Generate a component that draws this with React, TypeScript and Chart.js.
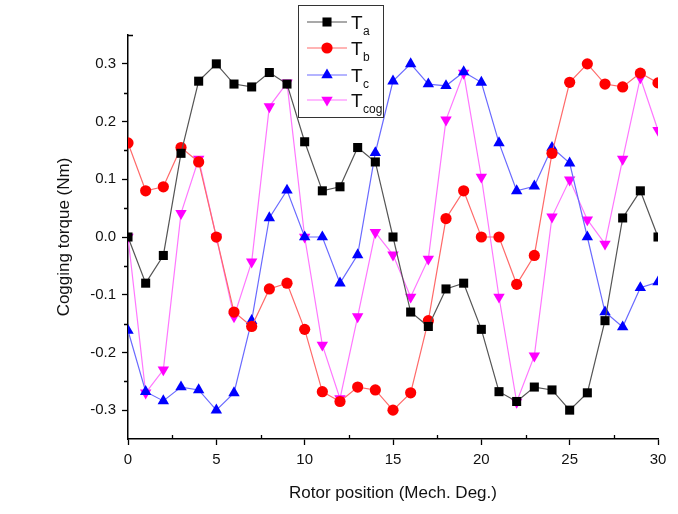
import React, { useEffect, useRef } from 'react';
import { Chart, registerables } from 'chart.js';
Chart.register(...registerables);

const positions = [0, 1, 2, 3, 4, 5, 6, 7, 8, 9, 10, 11, 12, 13, 14, 15, 16, 17, 18, 19, 20, 21, 22, 23, 24, 25, 26, 27, 28, 29, 30];
const Ta = [0, -0.08, -0.032, 0.145, 0.27, 0.3, 0.265, 0.26, 0.285, 0.265, 0.165, 0.08, 0.087, 0.155, 0.13, 0, -0.13, -0.155, -0.09, -0.08, -0.16, -0.268, -0.285, -0.26, -0.265, -0.3, -0.27, -0.145, 0.033, 0.08, 0];
const Tb = [0.163, 0.08, 0.087, 0.155, 0.13, 0, -0.13, -0.155, -0.09, -0.08, -0.16, -0.268, -0.285, -0.26, -0.265, -0.3, -0.27, -0.145, 0.032, 0.08, 0, 0, -0.082, -0.032, 0.145, 0.268, 0.3, 0.265, 0.26, 0.284, 0.267];
const Tc = [-0.162, -0.268, -0.284, -0.26, -0.265, -0.3, -0.27, -0.145, 0.033, 0.081, 0, 0, -0.08, -0.031, 0.146, 0.27, 0.3, 0.265, 0.262, 0.286, 0.268, 0.163, 0.08, 0.088, 0.155, 0.128, 0, -0.13, -0.156, -0.088, -0.078];
const Tcog = [0, -0.27, -0.23, 0.041, 0.135, 0, -0.138, -0.043, 0.226, 0.267, 0, -0.187, -0.28, -0.138, 0.008, -0.031, -0.104, -0.038, 0.203, 0.284, 0.104, -0.104, -0.286, -0.206, 0.035, 0.099, 0.03, -0.012, 0.135, 0.276, 0.185];

const seriesNames = ['a', 'b', 'c', 'cog'];
const xTitle = 'Rotor position (Mech. Deg.)';
const yTitle = 'Cogging torque (Nm)';
const xMinorTicks = [2.5, 7.5, 12.5, 17.5, 22.5, 27.5];
const yMinorTicks = [-0.25, -0.15, -0.05, 0.05, 0.15, 0.25];

const lineColors = ['#555555', '#ff6a6a', '#6a6aff', '#ff77ff'];
const markerColors = ['#000000', '#ff0000', '#0000ff', '#ff00ff'];
const markerStyles: any[] = ['rect', 'circle', 'triangle', 'triangle'];
const markerRot = [0, 0, 0, 180];
const markerRadius = [6.4, 5.6, 6.6, 6.6];
const FONT = '"Liberation Sans", Arial, sans-serif';

function drawMarker(ctx: CanvasRenderingContext2D, i: number, x: number, y: number) {
  ctx.save();
  ctx.fillStyle = markerColors[i];
  ctx.beginPath();
  const r = markerRadius[i];
  if (i === 0) {
    const s = Math.SQRT1_2 * r;
    ctx.rect(x - s, y - s, 2 * s, 2 * s);
  } else if (i === 1) {
    ctx.arc(x, y, r, 0, Math.PI * 2);
  } else {
    const dir = i === 2 ? 1 : -1;
    for (let k = 0; k < 3; k++) {
      const a = -Math.PI / 2 + (k * 2 * Math.PI) / 3;
      const px = x + r * Math.cos(a);
      const py = y + dir * r * Math.sin(a);
      if (k === 0) ctx.moveTo(px, py);
      else ctx.lineTo(px, py);
    }
    ctx.closePath();
  }
  ctx.fill();
  ctx.restore();
}

const axisExtrasPlugin = {
  id: 'axisExtras',
  afterDraw(chart: any) {
    const ctx: CanvasRenderingContext2D = chart.ctx;
    const xs = chart.scales.x;
    const ys = chart.scales.y;
    const area = chart.chartArea;
    ctx.save();
    ctx.strokeStyle = '#000000';
    ctx.lineWidth = 1.3;
    ctx.beginPath();
    xMinorTicks.forEach((v) => {
      const px = Math.round(xs.getPixelForValue(v)) + 0.5;
      ctx.moveTo(px, area.bottom);
      ctx.lineTo(px, area.bottom - 4);
    });
    yMinorTicks.forEach((v) => {
      const py = Math.round(ys.getPixelForValue(v)) + 0.5;
      ctx.moveTo(area.left, py);
      ctx.lineTo(area.left - 4, py);
    });
    // small hook at the top end of the y axis
    ctx.moveTo(area.left, area.top + 0.5);
    ctx.lineTo(area.left + 5, area.top + 0.5);
    ctx.stroke();
    ctx.restore();
  },
};

const legendPlugin = {
  id: 'customLegend',
  afterDraw(chart: any) {
    const ctx: CanvasRenderingContext2D = chart.ctx;
    ctx.save();
    const bx = 298, by = 5, bw = 85, bh = 112;
    ctx.fillStyle = '#ffffff';
    ctx.fillRect(bx, by, bw, bh);
    ctx.strokeStyle = '#333333';
    ctx.lineWidth = 1;
    ctx.strokeRect(bx + 0.5, by + 0.5, bw, bh);
    const rows = [22, 48, 75, 100];
    rows.forEach((ry, i) => {
      ctx.strokeStyle = lineColors[i];
      ctx.lineWidth = 1.2;
      ctx.beginPath();
      ctx.moveTo(307, ry);
      ctx.lineTo(347, ry);
      ctx.stroke();
      drawMarker(ctx, i, 327, ry);
      ctx.fillStyle = '#111111';
      ctx.textBaseline = 'alphabetic';
      ctx.textAlign = 'left';
      ctx.font = '19px ' + FONT;
      ctx.fillText('T', 351, ry + 7);
      ctx.font = '12px ' + FONT;
      ctx.fillText(seriesNames[i], 363, ry + 13);
    });
    ctx.restore();
  },
};

export default function App() {
  const ref = useRef<HTMLCanvasElement | null>(null);
  useEffect(() => {
    if (!ref.current) return;
    const all = [Ta, Tb, Tc, Tcog];
    const isMajorX = (v: number) => Math.round(v * 10) % 50 === 0;
    const isMajorY = (v: number) => Math.round(v * 100) % 10 === 0;
    const chart = new Chart(ref.current, {
      type: 'line',
      data: {
        labels: positions,
        datasets: all.map((d, i) => ({
          label: 'T' + seriesNames[i],
          data: positions.map((x, j) => ({ x, y: d[j] })),
          borderColor: lineColors[i],
          borderWidth: 1.2,
          backgroundColor: markerColors[i],
          pointBackgroundColor: markerColors[i],
          pointBorderColor: markerColors[i],
          pointBorderWidth: 0,
          pointStyle: markerStyles[i],
          pointRotation: markerRot[i],
          pointRadius: markerRadius[i],
          tension: 0,
          fill: false,
        })),
      },
      options: {
        animation: false,
        responsive: false,
        events: [],
        layout: { padding: { left: 52, right: 20, top: 35, bottom: 8 } },
        plugins: { legend: { display: false }, tooltip: { enabled: false } },
        scales: {
          x: {
            type: 'linear',
            min: 0,
            max: 30,
            afterFit(scale: any) { scale.height = 67; },
            border: { display: true, color: '#000000', width: 1.5 },
            grid: {
              display: true, drawOnChartArea: false, drawTicks: true, tickLength: 6,
              color: '#000000',
              tickColor: (c: any) => (c.tick && isMajorX(c.tick.value) ? '#000000' : 'rgba(0,0,0,0)'),
              tickWidth: 1.3,
            },
            ticks: {
              stepSize: 2.5,
              autoSkip: false,
              maxRotation: 0,
              padding: 6,
              color: '#111111',
              font: { family: FONT, size: 15 },
              callback: (v: any) => (isMajorX(Number(v)) ? String(Math.round(Number(v))) : ''),
            },
            title: { display: true, text: xTitle, color: '#111111', padding: { top: 4, bottom: 2 }, font: { family: FONT, size: 17 } },
          },
          y: {
            type: 'linear',
            min: -0.35,
            max: 0.35,
            afterFit(scale: any) { scale.width = 76; },
            border: { display: true, color: '#000000', width: 1.5 },
            grid: {
              display: true, drawOnChartArea: false, drawTicks: true, tickLength: 6,
              color: '#000000',
              tickColor: (c: any) => (c.tick && isMajorY(c.tick.value) && Math.abs(c.tick.value) < 0.34 ? '#000000' : 'rgba(0,0,0,0)'),
              tickWidth: 1.3,
            },
            ticks: {
              stepSize: 0.05,
              autoSkip: false,
              padding: 6,
              color: '#111111',
              font: { family: FONT, size: 15 },
              callback: (v: any) => {
                const n = Math.round(Number(v) * 100);
                if (n % 10 !== 0) return '';
                const t = n / 100;
                return t === 0 ? '0.0' : t.toFixed(1);
              },
            },
            title: { display: true, text: yTitle, color: '#111111', padding: { top: 2, bottom: 4 }, font: { family: FONT, size: 17 } },
          },
        },
      } as any,
      plugins: [axisExtrasPlugin, legendPlugin],
    });
    return () => chart.destroy();
  }, []);
  return (
    <div style={{ position: 'absolute', left: 0, top: 0, width: 678, height: 514, background: '#ffffff' }}>
      <canvas ref={ref} width={678} height={514} style={{ width: 678, height: 514, display: 'block' }} />
    </div>
  );
}
